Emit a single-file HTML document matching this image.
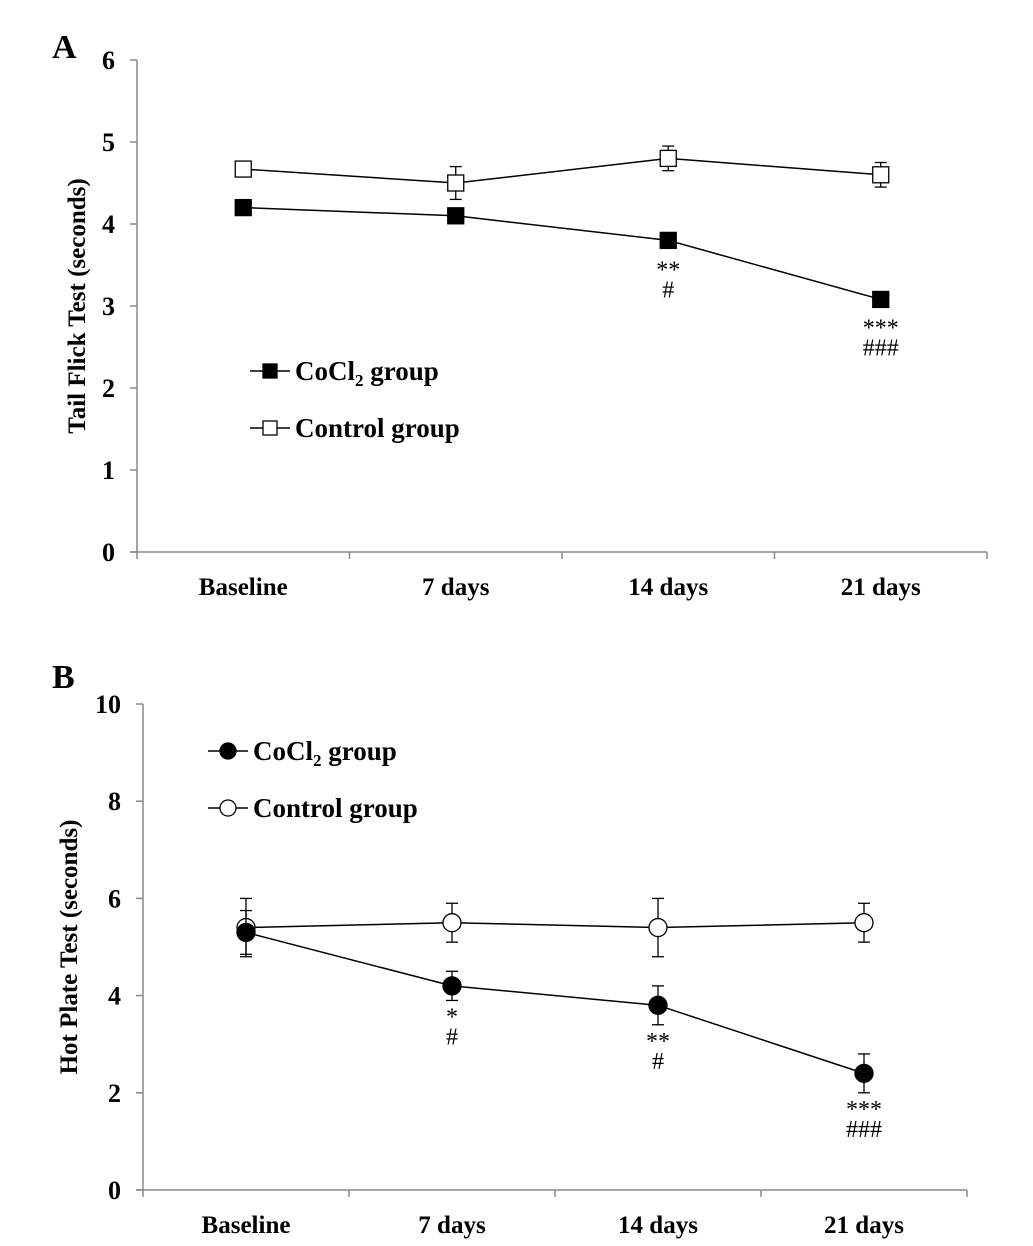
<!DOCTYPE html>
<html><head><meta charset="utf-8"><style>
html,body{margin:0;padding:0;background:#fff;}
svg{display:block;font-family:"Liberation Serif",serif;font-weight:bold;}
</style></head><body>
<svg id="chart" width="1033" height="1246" viewBox="0 0 1033 1246" xmlns="http://www.w3.org/2000/svg"></svg>
<script>
const categories = ["Baseline","7 days","14 days","21 days"];
const aTicks = [0,1,2,3,4,5,6];
const aCoCl2 = [4.2,4.1,3.8,3.08];
const aCoCl2Err = [0.05,0.05,0.06,0.05];
const aControl = [4.67,4.5,4.8,4.6];
const aControlErr = [0.06,0.2,0.15,0.15];
const aMarks = [["",""],["",""],["**","#"],["***","###"]];
const bTicks = [0,2,4,6,8,10];
const bCoCl2 = [5.3,4.2,3.8,2.4];
const bCoCl2Err = [0.45,0.3,0.4,0.4];
const bControl = [5.4,5.5,5.4,5.5];
const bControlErr = [0.6,0.4,0.6,0.4];
const bMarks = [["",""],["*","#"],["**","#"],["***","###"]];

const NS="http://www.w3.org/2000/svg";
const svg=document.getElementById('chart');
function mk(tag,attrs,parent){const e=document.createElementNS(NS,tag);for(const k in attrs)e.setAttribute(k,attrs[k]);(parent||svg).appendChild(e);return e;}

function panel(cfg){
  const g=mk('g',{});
  
  
  const y=v=>cfg.y0-(v-cfg.min)/(cfg.max-cfg.min)*(cfg.y0-cfg.y1);
  const bw=(cfg.x1-cfg.x0)/categories.length;
  const x=i=>cfg.x0+bw*(i+0.5);
  const ya=mk('line',{x1:cfg.x0,y1:cfg.y1,x2:cfg.x0,y2:cfg.y0,stroke:'#888','stroke-width':1.5},g);
  
  const xa=mk('line',{x1:cfg.x0-7,y1:cfg.y0,x2:cfg.x1,y2:cfg.y0,stroke:'#888','stroke-width':1.5},g);
  
  cfg.ticks.forEach(t=>{
    mk('line',{x1:cfg.x0-7,y1:y(t),x2:cfg.x0,y2:y(t),stroke:'#888','stroke-width':1.5},g);
    const tl=mk('text',{x:cfg.x0-22,y:y(t)+9,'text-anchor':'end','font-size':26},g);
    tl.textContent=t;
    
  });
  for(let i=0;i<=categories.length;i++){
    mk('line',{x1:cfg.x0+bw*i,y1:cfg.y0,x2:cfg.x0+bw*i,y2:cfg.y0+7,stroke:'#888','stroke-width':1.5},g);
  }
  categories.forEach((c,i)=>{
    const t=mk('text',{x:x(i),y:cfg.y0+43,'text-anchor':'middle','font-size':25},g);
    t.textContent=c;
    
  });
  const yt=mk('text',{transform:`translate(${cfg.ytx},${(cfg.y0+cfg.y1)/2}) rotate(-90)`,'text-anchor':'middle','font-size':25},g);
  yt.textContent=cfg.ytitle;
  
  const pl=mk('text',{x:cfg.lx,y:cfg.ly,'font-size':34},g);
  pl.textContent=cfg.label;
  

  function series(vals,errs,filled,sname){
    const sg=mk('g',{},g);
    
    const pts=vals.map((v,i)=>x(i)+','+y(v)).join(' ');
    mk('polyline',{points:pts,fill:'none',stroke:'#000','stroke-width':1.5},sg);
    vals.forEach((v,i)=>{
      const cx=x(i),cy=y(v),e=errs[i];
      mk('line',{x1:cx,y1:y(v+e),x2:cx,y2:y(v-e),stroke:'#000','stroke-width':1.3},sg);
      mk('line',{x1:cx-6,y1:y(v+e),x2:cx+6,y2:y(v+e),stroke:'#000','stroke-width':1.3},sg);
      mk('line',{x1:cx-6,y1:y(v-e),x2:cx+6,y2:y(v-e),stroke:'#000','stroke-width':1.3},sg);
      let m;
      if(cfg.shape==='square') m=mk('rect',{x:cx-8,y:cy-8,width:16,height:16,fill:filled?'#000':'#fff',stroke:'#000','stroke-width':1.3},sg);
      else m=mk('circle',{cx:cx,cy:cy,r:9,fill:filled?'#000':'#fff',stroke:'#000','stroke-width':1.3},sg);
      
    });
  }
  series(cfg.ctrl,cfg.ctrlErr,false,'control-series');
  series(cfg.co,cfg.coErr,true,'cocl2-series');
  cfg.marks.forEach((mm,i)=>{
    const base=y(cfg.co[i]-cfg.coErr[i]);
    [0,1].forEach(k=>{
      if(!mm[k])return;
      const t=mk('text',{x:x(i),y:base+cfg.markOff+k*20,'text-anchor':'middle','font-size':24,'font-weight':'normal'},g);
      t.textContent=mm[k];
      
    });
  });
  [[true,'CoCl','group',cfg.legY[0]],[false,'Control group','',cfg.legY[1]]].forEach(([f,txt,suf,ly])=>{
    const lg=mk('g',{},g);
    
    mk('line',{x1:cfg.legX,y1:ly,x2:cfg.legX+40,y2:ly,stroke:'#000','stroke-width':1.5},lg);
    const cx=cfg.legX+20;
    if(cfg.shape==='square') mk('rect',{x:cx-7,y:ly-7,width:14,height:14,fill:f?'#000':'#fff',stroke:'#000','stroke-width':1.3},lg);
    else mk('circle',{cx:cx,cy:ly,r:8,fill:f?'#000':'#fff',stroke:'#000','stroke-width':1.3},lg);
    const t=mk('text',{x:cfg.legX+45,y:ly+9,'font-size':27},lg);
    if(f){t.innerHTML='CoCl<tspan font-size="17" dy="6">2</tspan><tspan dy="-6"> group</tspan>';}
    else t.textContent=txt;
  });
}

panel({name:'panel-a-tail-flick',x0:137,x1:987,y0:552,y1:60,min:0,max:6,ticks:aTicks,
  ytitle:'Tail Flick Test  (seconds)',ytx:85,label:'A',lx:52,ly:58,shape:'square',
  co:aCoCl2,coErr:aCoCl2Err,ctrl:aControl,ctrlErr:aControlErr,marks:aMarks,markOff:32,
  legX:250,legY:[371,428]});
panel({name:'panel-b-hot-plate',x0:143,x1:967,y0:1190,y1:704,min:0,max:10,ticks:bTicks,
  ytitle:'Hot Plate Test  (seconds)',ytx:77,label:'B',lx:52,ly:688,shape:'circle',
  co:bCoCl2,coErr:bCoCl2Err,ctrl:bControl,ctrlErr:bControlErr,marks:bMarks,markOff:24,
  legX:208,legY:[751,808]});
</script>
</body></html>
